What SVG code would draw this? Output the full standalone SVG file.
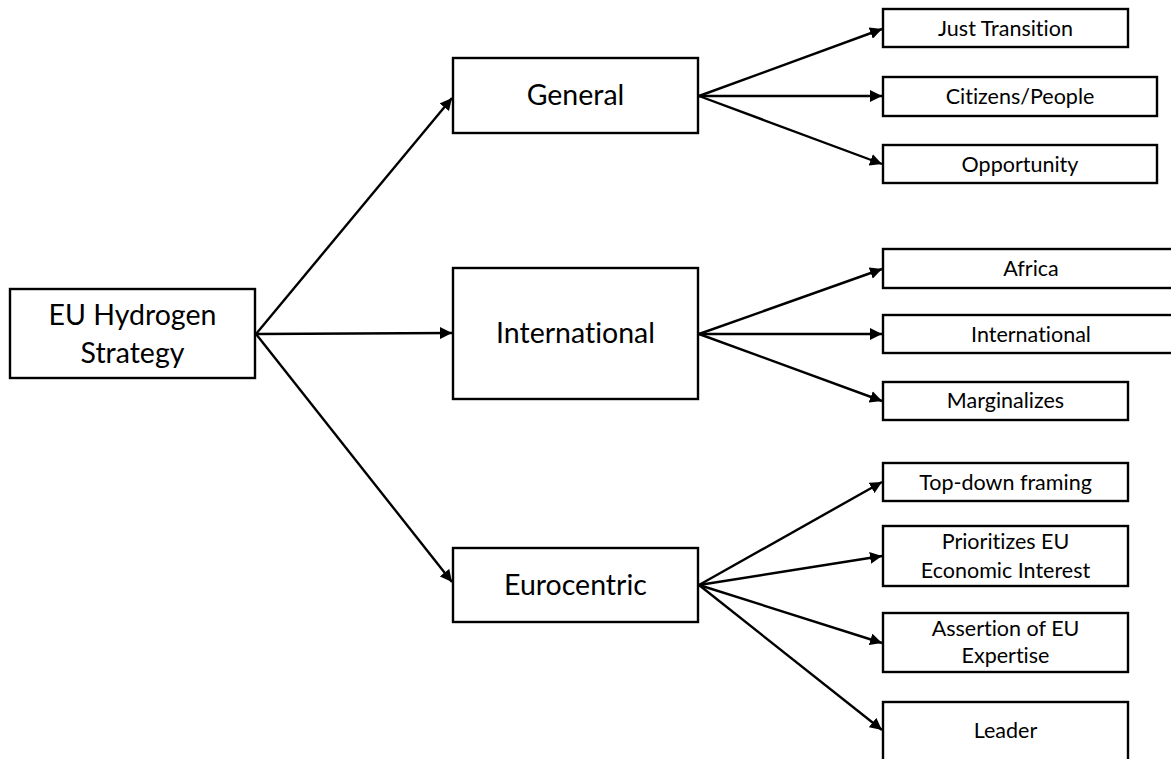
<svg xmlns="http://www.w3.org/2000/svg" width="1171" height="759" viewBox="0 0 1171 759">
<style>
rect{fill:#fff;stroke:#000;stroke-width:2.4}
text{font-family:Lato,"Open Sans",sans-serif;fill:#000;text-anchor:middle;font-variant-ligatures:none;font-feature-settings:"liga" 0,"clig" 0}
.b{font-size:28.5px}
.s{font-size:21.5px}
#connectors line{stroke:#000;stroke-width:2.4;marker-end:url(#ah)}
</style>
<defs>
<marker id="ah" viewBox="0 0 10 10" refX="10" refY="5" markerWidth="5" markerHeight="5" orient="auto" markerUnits="strokeWidth">
<path d="M0,0 L10,5 L0,10 z" fill="#000"/>
</marker>
</defs>
<rect x="0" y="0" width="1171" height="759" style="fill:#fff;stroke:none"/>
<g id="connectors">
<line x1="256" y1="334" x2="452" y2="98"/>
<line x1="256" y1="334" x2="452" y2="333"/>
<line x1="256" y1="334" x2="452" y2="582"/>
<line x1="699" y1="96" x2="882" y2="29"/>
<line x1="699" y1="96" x2="882" y2="96"/>
<line x1="699" y1="96" x2="882" y2="164"/>
<line x1="699" y1="334" x2="882" y2="269"/>
<line x1="699" y1="334" x2="882" y2="334"/>
<line x1="699" y1="334" x2="882" y2="401"/>
<line x1="699" y1="585" x2="882" y2="482"/>
<line x1="699" y1="585" x2="882" y2="556"/>
<line x1="699" y1="585" x2="882" y2="643"/>
<line x1="699" y1="585" x2="882" y2="730"/>
</g>
<g id="root"><rect x="10" y="289" width="245" height="89"/><text class="b" x="132.5" y="325">EU Hydrogen</text><text class="b" x="132.5" y="363">Strategy</text></g>
<g id="general"><rect x="453" y="58" width="245" height="75"/><text class="b" x="575.5" y="105">General</text></g>
<g id="international"><rect x="453" y="268" width="245" height="131"/><text class="b" x="575.5" y="343">International</text></g>
<g id="eurocentric"><rect x="453" y="548" width="245" height="74"/><text class="b" x="575.5" y="595">Eurocentric</text></g>
<g id="just-transition"><rect x="883" y="9" width="245" height="38"/><text class="s" x="1005.5" y="36">Just Transition</text></g>
<g id="citizens"><rect x="883" y="77" width="274" height="39"/><text class="s" x="1020" y="104">Citizens/People</text></g>
<g id="opportunity"><rect x="883" y="145" width="274" height="38"/><text class="s" x="1020" y="172">Opportunity</text></g>
<g id="africa"><rect x="883" y="249" width="296" height="39"/><text class="s" x="1031" y="276">Africa</text></g>
<g id="international-2"><rect x="883" y="315" width="296" height="38"/><text class="s" x="1031" y="342">International</text></g>
<g id="marginalizes"><rect x="883" y="382" width="245" height="38"/><text class="s" x="1005.5" y="408">Marginalizes</text></g>
<g id="top-down"><rect x="883" y="463" width="245" height="38"/><text class="s" x="1005.5" y="490">Top-down framing</text></g>
<g id="prioritizes"><rect x="883" y="526" width="245" height="60"/><text class="s" x="1005.5" y="549">Prioritizes EU</text><text class="s" x="1005.5" y="578">Economic Interest</text></g>
<g id="assertion"><rect x="883" y="613" width="245" height="59"/><text class="s" x="1005.5" y="636">Assertion of EU</text><text class="s" x="1005.5" y="663">Expertise</text></g>
<g id="leader"><rect x="883" y="702" width="245" height="62"/><text class="s" x="1005.5" y="738">Leader</text></g>
</svg>
